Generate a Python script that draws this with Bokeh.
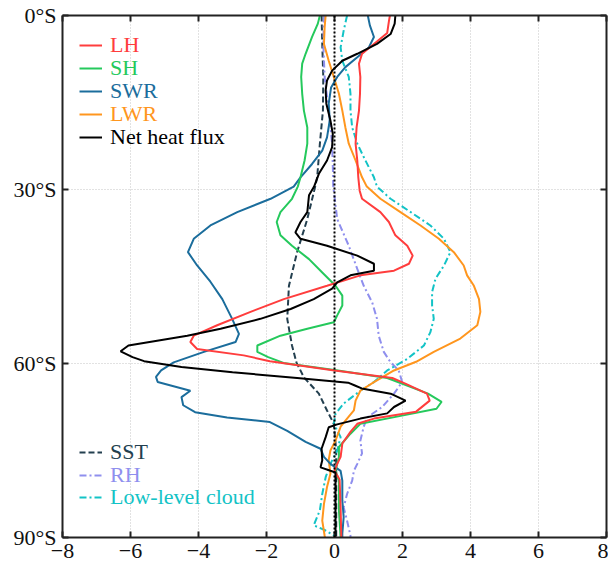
from bokeh.plotting import figure
from bokeh.models import Range1d, Span, Legend, LegendItem, LinearAxis, FixedTicker
from bokeh.embed import file_html
from bokeh.resources import INLINE

# ---------------- data (latitude in degrees south, anomaly value) ----------------
lh_lat = [0, 1, 3, 4.9, 6.6, 8.3, 10.6, 13.5, 16.4, 19.3, 22.1, 25, 27.9, 30.2, 31.6, 33.9, 35.6, 37.9,
          39.7, 41.4, 42.8, 44, 44.8, 46.6, 48.9, 51.1, 53.4, 55.2, 56.3, 57.5, 58.6, 59.6, 61.2, 62.5,
          63.5, 65.2, 66.4, 68.3, 69.5, 70.4, 71.8, 73.8, 76.1, 77.3, 78.5, 80, 85, 90]
lh = [1.63, 1.6, 1.55, 1.16, 0.81, 0.72, 0.76, 0.75, 0.72, 0.65, 0.62, 0.67, 0.7, 0.74, 0.81, 1.35, 1.6, 1.79,
      2.14, 2.3, 2.19, 1.75, 0.76, -0.22, -1.49, -2.47, -3.45, -4.14, -4.24, -4.04, -2.67, -1.9, 0.0, 1.7,
      2.1, 2.72, 2.8, 2.4, 1.16, 0.67, 0.47, 0.23, 0.18, 0.08, 0.0, 0.15, 0.18, 0.2]

sh_lat = [0, 1.4, 3.7, 6.6, 8.3, 10.6, 13.5, 16.4, 19.3, 22.1, 25, 27.9, 29.5, 31.6, 33.9, 35.6, 37.9, 39.7,
          42, 44.3, 46.6, 48.3, 50, 51.7, 52.9, 54, 55.2, 56.9, 58, 58.9, 59.9, 61.2, 62.5, 63.5, 65.2, 66.6,
          67.8, 69.2, 70.4, 72.1, 74.4, 76.1, 78.5, 80.2, 85.3, 90]
sh = [-0.43, -0.49, -0.66, -0.85, -0.95, -0.98, -0.95, -0.9, -0.8, -0.8, -0.88, -1.0, -1.08, -1.25, -1.59, -1.7,
      -1.59, -1.25, -0.75, -0.36, 0.03, 0.23, 0.23, 0.08, -0.02, -0.8, -1.59, -2.27, -2.27, -1.95, -1.5, 0.1,
      1.55, 2.0, 2.75, 3.15, 3.0, 1.8, 0.76, 0.47, 0.13, 0.13, 0.03, 0.13, 0.13, 0.18]

swr_lat = [0, 1.7, 3.7, 5.5, 7.2, 8.9, 10.6, 12.4, 15.2, 18.1, 21, 23.3, 25.6, 27.9, 29.5, 31.6, 33.9, 36.2,
           38.5, 40.8, 43.1, 45.9, 48.9, 52.3, 54.9, 56.3, 58, 59.8, 61.2, 62.3, 63.2, 64.7, 65.8, 67.2, 68.4,
           69.3, 70.1, 71.6, 73.5, 74.7, 76.1, 77.3, 78.5, 80.2, 83.6, 86.5, 89.3, 90]
swr = [0.98, 1.04, 1.16, 1.01, 0.67, 0.32, 0.08, -0.1, -0.17, -0.14, -0.22, -0.36, -0.66, -1.0, -1.2, -1.88,
       -2.86, -3.65, -4.14, -4.31, -4.04, -3.65, -3.3, -3.01, -2.81, -2.91, -3.84, -4.73, -5.1, -5.25, -5.2,
       -4.24, -4.5, -4.45, -4.1, -3.16, -1.9, -1.39, -0.85, -0.41, -0.31, -0.12, 0.18, 0.23, 0.23, 0.27, 0.23, 0.23]

lwr_lat = [0, 2, 4.9, 7.8, 10.6, 13.5, 16.4, 19.3, 22.1, 25, 27.9, 29.5, 31.6, 33.9, 36.2, 38.5, 40.8, 43.1,
           44.8, 46.6, 48.9, 51.1, 53.4, 55.7, 58, 59.7, 61.2, 63.2, 64.7, 66.4, 68.1, 69.5, 70.9, 73.3, 75,
           76.6, 79, 81.3, 84.2, 87.1, 89.7, 90]
lwr = [-0.26, -0.29, -0.31, -0.17, -0.02, 0.13, 0.23, 0.32, 0.42, 0.62, 0.81, 0.95, 1.35, 1.94, 2.53, 3.07,
       3.51, 3.8, 3.9, 4.1, 4.25, 4.29, 4.2, 3.7, 2.92, 2.4, 1.75, 1.16, 0.76, 0.62, 0.57, 0.37, 0.18, 0.03,
       -0.12, -0.17, -0.12, -0.22, -0.31, -0.36, -0.29, -0.28]

net_lat = [0, 1.4, 3.2, 4.9, 6.6, 7.8, 9.5, 11.2, 12.9, 15.2, 18.1, 20.4, 22.7, 25, 27.3, 29.5, 31, 33.9,
           35.6, 37.4, 38.5, 39.7, 41.4, 42.8, 44, 44.8, 46, 47.1, 48.9, 50.6, 52.3, 54, 55.2, 56.9, 57.9,
           58.9, 59.6, 60.6, 61.5, 62.5, 63.3, 63.8, 64.3, 65.2, 66.4, 67.5, 68.6, 69.5, 70.5, 71, 72.7,
           74.7, 76.7, 77.9, 78.5, 78.8, 90]
net = [1.79, 1.77, 1.65, 1.25, 0.67, 0.23, -0.07, -0.22, -0.26, -0.24, -0.12, -0.05, -0.07, -0.22, -0.46,
       -0.6, -0.75, -0.8, -1.0, -1.15, -1.0, -0.22, 0.67, 1.16, 1.16, 0.47, 0.08, -0.07, -0.61, -1.29, -2.18,
       -3.35, -4.33, -6.06, -6.29, -5.94, -5.6, -4.5, -3.0, -1.1, 0.4, 0.6, 0.8, 1.65, 2.09, 1.75, 1.55, 0.76,
       0.08, -0.17, -0.26, -0.38, -0.36, -0.41, -0.12, 0.03, 0.03]

sst_lat = [0, 4.9, 10.6, 16.4, 22.1, 27.9, 29.3, 35.1, 40.8, 46.6, 52.3, 56.9, 59.8, 62.4, 65.2, 68.1, 70.4,
           75, 80, 85, 90]
sst = [-0.38, -0.36, -0.33, -0.34, -0.43, -0.51, -0.56, -0.8, -1.1, -1.34, -1.39, -1.25, -1.12, -0.9, -0.46,
       -0.22, -0.02, 0.05, 0.05, 0.05, 0.05]

rh_lat = [0, 4.9, 10.6, 16.4, 22.1, 27.9, 29.3, 35.1, 39.7, 43.7, 46.6, 49.5, 52.3, 55.2, 58, 59.8, 61.2,
          63.2, 65.2, 67.5, 69.3, 70.9, 73.3, 75.5, 77.3, 78.5, 80.2, 82.5, 84.8, 87.1, 89.7, 90]
rh = [-0.31, -0.33, -0.29, -0.17, -0.07, -0.04, -0.04, 0.08, 0.42, 0.67, 0.86, 1.11, 1.25, 1.3, 1.45, 1.65,
      1.89, 1.99, 1.75, 1.4, 0.96, 0.86, 0.76, 0.81, 0.67, 0.57, 0.52, 0.37, 0.27, 0.37, 0.47, 0.47]

cloud_lat = [0, 2.6, 5.5, 7.8, 10.6, 13.5, 16.4, 19.3, 22.1, 25, 27.9, 29.5, 31.6, 33.9, 36.2, 38.5, 40.8,
             43.1, 45.4, 47.7, 50, 52.3, 54.6, 56.9, 59.2, 61.2, 63.2, 64.7, 66.9, 68.7, 70.4, 72.7, 75, 77.3,
             79.6, 82.5, 85.3, 87.9, 88.8, 89.7, 90]
cloud = [0.37, 0.27, 0.18, 0.23, 0.42, 0.47, 0.47, 0.52, 0.67, 0.91, 1.16, 1.25, 1.65, 2.24, 2.82, 3.22, 3.41,
         3.22, 2.97, 2.87, 2.87, 2.92, 2.82, 2.63, 2.14, 1.55, 1.16, 0.76, 0.27, 0.03, -0.02, 0.18, 0.08, -0.12,
         -0.26, -0.36, -0.43, -0.61, -0.26, 0.0, 0.02]

x_ticks = [-8, -6, -4, -2, 0, 2, 4, 6, 8]
y_ticks = [0, 30, 60, 90]
y_tick_labels = ["0°S", "30°S", "60°S", "90°S"]

# ---------------- figure ----------------
FONT = "serif"
FS = "22px"
p = figure(width=608, height=570, output_backend="svg", toolbar_location=None,
           x_range=Range1d(-8, 8), y_range=Range1d(90, 0),
           min_border_left=62, min_border_right=2, min_border_top=15, min_border_bottom=33,
           outline_line_color=None, background_fill_color="white", border_fill_color="white")

p.add_layout(LinearAxis(), "above")
p.add_layout(LinearAxis(), "right")

for ax in p.xaxis:
    ax.ticker = FixedTicker(ticks=x_ticks)
for ax in p.yaxis:
    ax.ticker = FixedTicker(ticks=y_ticks)
    ax.major_label_overrides = {t: l for t, l in zip(y_ticks, y_tick_labels)}

for ax in p.axis:
    ax.axis_line_width = 2
    ax.axis_line_color = "#222222"
    ax.major_tick_in = 6
    ax.major_tick_out = 0
    ax.major_tick_line_width = 2
    ax.major_tick_line_color = "#222222"
    ax.minor_tick_line_color = None
    ax.major_label_text_font = FONT
    ax.major_label_text_font_size = FS
    ax.major_label_text_color = "#111111"
    ax.major_label_standoff = 6

for ax in p.above:
    ax.major_label_overrides = {t: "" for t in x_ticks}
    ax.major_label_standoff = 0
for ax in p.right:
    ax.major_label_overrides = {t: "" for t in y_ticks}
    ax.major_label_standoff = 0

p.xgrid.ticker = FixedTicker(ticks=x_ticks)
p.ygrid.ticker = FixedTicker(ticks=y_ticks)
p.grid.grid_line_color = "#c4c4c4"
p.grid.grid_line_dash = "1 2"
p.grid.grid_line_width = 1

p.add_layout(Span(location=0, dimension="height", line_color="black", line_dash="2 2", line_width=2))

series = [
    ("SST", sst, sst_lat, "#233f4f", "6 3"),
    ("RH", rh, rh_lat, "#8f8fee", "7 3 2 3"),
    ("Low-level cloud", cloud, cloud_lat, "#13c3c6", "7 3 2 3"),
    ("LWR", lwr, lwr_lat, "#ff961e", None),
    ("SWR", swr, swr_lat, "#1b6d9c", None),
    ("SH", sh, sh_lat, "#25c95c", None),
    ("LH", lh, lh_lat, "#ff3d3d", None),
    ("Net heat flux", net, net_lat, "#000000", None),
]
renderers = {}
for name, xs, ys, col, dash in series:
    kw = dict(line_dash=dash) if dash else {}
    renderers[name] = (p.line(x=xs, y=ys, line_color=col, line_width=2, **kw), col)

# ---------------- legends (one per entry so each label keeps its colour) ----------------
FRAME_H = 522
ITEM_H = 26
def add_entry(name, center_y):
    r, col = renderers[name]
    leg = Legend(items=[LegendItem(label=name, renderers=[r])],
                 location=(17, FRAME_H - (center_y - 15) - ITEM_H / 2),
                 padding=0, margin=0, spacing=0, border_line_color=None,
                 background_fill_alpha=0, glyph_width=23, glyph_height=20,
                 label_standoff=8, label_height=20,
                 label_text_font=FONT, label_text_font_size=FS, label_text_color=col)
    p.add_layout(leg)

for i, nm in enumerate(["LH", "SH", "SWR", "LWR", "Net heat flux"]):
    add_entry(nm, 44.5 + 23.2 * i)
for i, nm in enumerate(["SST", "RH", "Low-level cloud"]):
    add_entry(nm, 451.7 + 22.8 * i)

open("out.html", "w").write(file_html(p, INLINE))
